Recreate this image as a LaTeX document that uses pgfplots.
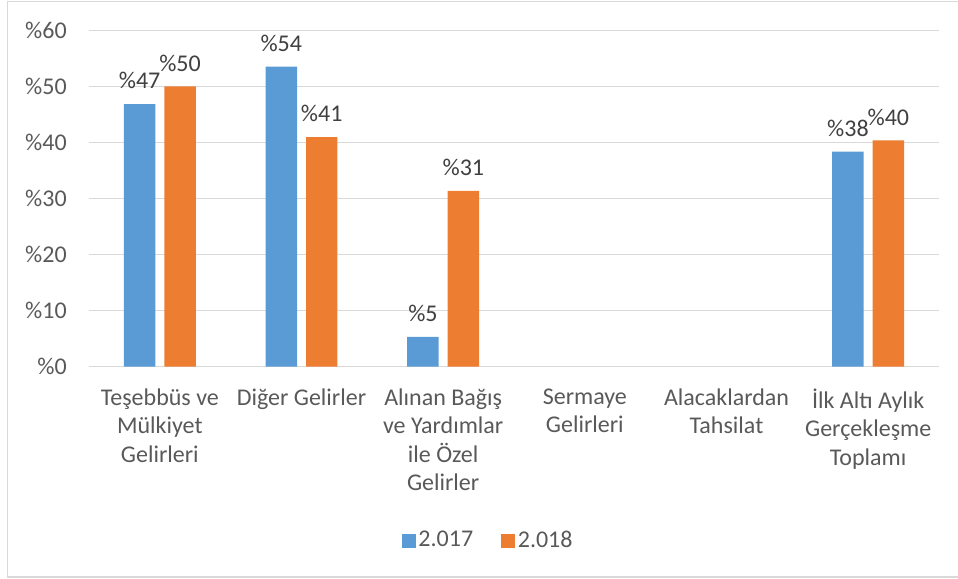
\documentclass[border=0pt]{standalone}
\usepackage{fontspec}
\setmainfont{Carlito}
\usepackage{pgfplots}
\pgfplotsset{compat=1.18}
\definecolor{cblue}{HTML}{5B9BD5}
\definecolor{corange}{HTML}{ED7D31}
\definecolor{gridc}{HTML}{D9D9D9}
\definecolor{txt}{HTML}{595959}
\definecolor{lbl}{HTML}{404040}
\begin{document}
\fontsize{18pt}{21.2pt}\selectfont
\begin{tikzpicture}
\useasboundingbox (-66.75pt,-159.2pt) rectangle (651.75pt,275pt);
\draw[gridc, line width=1.1pt] (-61.3pt,-157.7pt) rectangle (655pt,273.75pt);
\begin{axis}[
  scale only axis,
  width=637.5pt, height=252pt,
  ymin=0, ymax=60,
  xmin=-0.5, xmax=5.5,
  ybar=6.75pt,
  bar width=23.6pt,
  axis line style={draw=none},
  major tick length=0pt,
  ymajorgrids,
  grid style={gridc, line width=1pt},
  ytick={0,10,20,30,40,50,60},
  yticklabels={\%0,\%10,\%20,\%30,\%40,\%50,\%60},
  yticklabel style={anchor=east, inner sep=0pt, xshift=-16.5pt, text=txt},
  xtick={0,1,2,3,4,5},
  xticklabels={{Teşebbüs ve\\Mülkiyet\\Gelirleri},{Diğer Gelirler},{Alınan Bağış\\ve Yardımlar\\ile Özel\\Gelirler},{Sermaye\\Gelirleri},{Alacaklardan\\Tahsilat},{İlk Altı Aylık\\Gerçekleşme\\Toplamı}},
  xticklabel style={align=center, anchor=north, inner sep=0pt, yshift=-16.5pt, text=txt},
  nodes near coords={\%\pgfmathprintnumber[fixed,precision=0,assume math mode=true]{\pgfplotspointmeta}},
  every node near coord/.append style={anchor=base, yshift=11.5pt, text=lbl, inner sep=0pt},
  legend columns=2,
  legend style={draw=none, fill=none, at={(0.47,-0.518)}, anchor=center, text=txt,
    /tikz/every even column/.append style={column sep=19pt}},
  legend image code/.code={\fill[#1] (0pt,-5.25pt) rectangle (10.5pt,5.25pt);},
  clip=false,
]
\addplot[fill=cblue, draw=none] coordinates {(0,46.9) (1,53.6) (2,5.3) (5,38.4)};
\addplot[fill=corange, draw=none] coordinates {(0,50.05) (1,41.0) (2,31.4) (5,40.4)};
\legend{2.017,2.018}
\end{axis}
\end{tikzpicture}
\end{document}
